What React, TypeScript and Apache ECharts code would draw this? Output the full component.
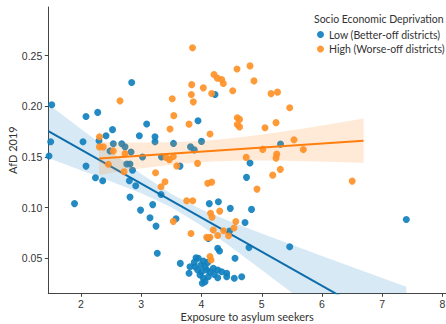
import React, { useEffect, useRef } from "react";
import * as echarts from "echarts";

// Low deprivation (better-off districts): [exposure, AfD 2019]
const lowPoints: number[][] = [
  [1.469, 0.151], [1.514, 0.2015], [1.497, 0.165], [1.892, 0.104], [2.033, 0.165],
  [2.083, 0.19], [2.277, 0.194], [2.083, 0.141], [2.24, 0.1295], [2.36, 0.1265],
  [2.299, 0.166], [2.415, 0.171], [2.523, 0.177], [2.481, 0.156], [2.536, 0.163],
  [2.676, 0.163], [2.73, 0.16], [2.83, 0.155], [2.841, 0.2235], [2.968, 0.171],
  [3.09, 0.1825], [3.021, 0.15], [3.228, 0.17], [3.228, 0.165], [3.336, 0.15],
  [3.535, 0.1634], [3.817, 0.16], [3.88, 0.157], [3.942, 0.1857], [4.0, 0.1654],
  [4.224, 0.2117], [2.759, 0.143], [2.813, 0.143], [2.855, 0.137], [2.802, 0.1265],
  [2.908, 0.1216], [2.813, 0.1104], [2.988, 0.0976], [3.19, 0.103], [3.145, 0.09],
  [3.245, 0.0818], [3.328, 0.113], [3.266, 0.055], [3.643, 0.141], [3.577, 0.089],
  [3.648, 0.045], [4.129, 0.104], [4.28, 0.1058], [4.478, 0.0993], [4.83, 0.0983],
  [4.722, 0.0853], [4.465, 0.0769], [4.113, 0.0697], [4.269, 0.0599], [4.299, 0.0572],
  [4.556, 0.05], [4.788, 0.0606], [5.464, 0.0614], [4.747, 0.1299], [4.805, 0.144],
  [5.311, 0.1627], [7.399, 0.0883], [3.909, 0.0506], [3.947, 0.05], [4.03, 0.0473],
  [4.103, 0.046], [3.88, 0.046], [3.809, 0.0417], [3.892, 0.0417], [3.992, 0.0434],
  [4.058, 0.0417], [3.793, 0.0352], [3.937, 0.0385], [4.003, 0.0368], [4.086, 0.0385],
  [4.141, 0.0368], [4.196, 0.0401], [4.269, 0.0385], [4.335, 0.0368], [4.418, 0.0352],
  [3.975, 0.0335], [4.03, 0.0303], [4.113, 0.0319], [4.212, 0.0342], [4.269, 0.0309],
  [4.013, 0.0254], [4.058, 0.027], [4.418, 0.0319], [4.544, 0.0303], [4.667, 0.0319],
];

// High deprivation (worse-off districts)
const highPoints: number[][] = [
  [3.851, 0.2577], [4.207, 0.2314], [4.262, 0.2278], [4.335, 0.2265], [4.362, 0.2225],
  [3.837, 0.2214], [4.03, 0.2182], [3.831, 0.2117], [3.864, 0.2044], [4.169, 0.2127],
  [2.647, 0.2054], [3.514, 0.2074], [3.54, 0.1908], [3.477, 0.1777], [3.793, 0.1824],
  [4.141, 0.1726], [2.307, 0.17], [2.304, 0.16], [2.37, 0.16], [2.536, 0.156],
  [2.73, 0.1533], [2.453, 0.1428], [2.714, 0.1354], [3.411, 0.1496], [3.466, 0.1474],
  [3.532, 0.1504], [3.589, 0.1412], [3.934, 0.1437], [3.237, 0.1344], [3.394, 0.1255],
  [3.328, 0.1206], [4.103, 0.124], [4.169, 0.1252], [3.754, 0.1068], [3.854, 0.1068],
  [4.15, 0.0944], [4.175, 0.0905], [4.302, 0.0966], [3.532, 0.0865], [3.826, 0.0745],
  [4.195, 0.0779], [4.141, 0.0707], [4.085, 0.0707], [4.269, 0.0725], [4.368, 0.0772],
  [4.448, 0.0722], [4.539, 0.0799], [4.569, 0.0863], [4.141, 0.0518], [4.158, 0.0483],
  [4.742, 0.1496], [5.016, 0.1575], [5.248, 0.1528], [5.237, 0.1489], [5.308, 0.1378],
  [5.182, 0.1321], [4.921, 0.1183], [5.535, 0.167], [5.69, 0.1573], [6.501, 0.1262],
  [5.464, 0.1985], [4.805, 0.2399], [4.589, 0.2369], [4.871, 0.2251], [4.518, 0.2153],
  [5.154, 0.2125], [5.261, 0.214], [4.594, 0.1888], [4.631, 0.1871], [4.594, 0.1821],
  [4.631, 0.1797], [5.054, 0.1788], [5.237, 0.1839],
];

// Regression lines (endpoints)
const lowFit: number[][] = [[1.457, 0.1755], [7.4, -0.0241]];
const highFit: number[][] = [[2.3, 0.1486], [6.69, 0.166]];

// Confidence bands
const lowBandX = [1.457, 2.0, 2.5, 3.0, 3.5, 4.0, 4.5, 5.0, 5.5, 6.0, 6.5, 7.0, 7.4];
const lowBandLo = [0.149, 0.137, 0.1258, 0.1141, 0.1004, 0.0821, 0.0607, 0.0385, 0.016, -0.0066, -0.0293, -0.052, -0.07];
const lowBandHi = [0.202, 0.1775, 0.1552, 0.1333, 0.1134, 0.0981, 0.0859, 0.0745, 0.0634, 0.0524, 0.0415, 0.0306, 0.0219];

const highBandX = [2.3, 2.75, 3.25, 3.75, 4.25, 4.75, 5.25, 5.75, 6.25, 6.69];
const highBandLo = [0.1325, 0.1366, 0.1406, 0.1438, 0.1458, 0.1466, 0.1465, 0.1459, 0.145, 0.144];
const highBandHi = [0.1647, 0.1642, 0.1642, 0.165, 0.167, 0.1702, 0.1741, 0.1787, 0.1836, 0.188];

const xTicks = [2, 3, 4, 5, 6, 7, 8];
const yTicks = [0.05, 0.1, 0.15, 0.2, 0.25];

const LOW_NAME = "Low (Better-off districts)";
const HIGH_NAME = "High (Worse-off districts)";

const X_MIN = 1.457;
const X_MAX = 8.058;
const Y_MIN = 0.0155;
const Y_MAX = 0.298;

function bandSeries(xs: number[], lo: number[], hi: number[], color: string, z: number) {
  return {
    type: "custom",
    coordinateSystem: "cartesian2d",
    silent: true,
    clip: true,
    z,
    data: [[xs[0], hi[0]]],
    renderItem: (_params: any, api: any) => {
      const pts: number[][] = [];
      for (let i = 0; i < xs.length; i++) pts.push(api.coord([xs[i], Math.max(hi[i], Y_MIN)]));
      for (let i = xs.length - 1; i >= 0; i--) pts.push(api.coord([xs[i], lo[i]]));
      return {
        type: "polygon",
        shape: { points: pts },
        style: { fill: color, opacity: 0.18, stroke: "none" },
      };
    },
  };
}

export default function App() {
  const ref = useRef<HTMLDivElement>(null);
  useEffect(() => {
    if (!ref.current) return;
    const chart = echarts.init(ref.current, undefined, { renderer: "svg" });
    const tickFont = "Liberation Sans";
    const labelFont = "Lato";
    chart.setOption({
      animation: false,
      backgroundColor: "#ffffff",
      title: {
        text: "Socio Economic Deprivation",
        left: 314,
        top: 13,
        padding: 0,
        textStyle: { fontSize: 10.5, fontWeight: "normal", color: "#333", fontFamily: labelFont },
      },
      legend: {
        left: 317,
        top: 29,
        orient: "vertical",
        itemWidth: 7,
        itemHeight: 7,
        itemGap: 3.5,
        padding: 0,
        icon: "circle",
        data: [LOW_NAME, HIGH_NAME],
        textStyle: { fontSize: 10.5, color: "#333", fontFamily: labelFont },
      },
      grid: {
        left: 48.3,
        top: 7,
        right: 0,
        bottom: 30.7,
        containLabel: false,
        outerBoundsMode: "none",
      },
      xAxis: {
        type: "value",
        min: X_MIN,
        max: X_MAX,
        name: "Exposure to asylum seekers",
        nameLocation: "middle",
        nameGap: 18,
        nameMoveOverlap: false,
        nameTextStyle: { fontSize: 11, color: "#333", fontFamily: labelFont },
        axisLine: { show: true, onZero: false, lineStyle: { color: "#444", width: 1 } },
        axisTick: { show: true, length: 3.5, customValues: xTicks, lineStyle: { color: "#444" } },
        axisLabel: {
          customValues: xTicks,
          fontSize: 10.5,
          color: "#333",
          fontFamily: tickFont,
          margin: 5,
        },
        splitLine: { show: false },
      },
      yAxis: {
        type: "value",
        min: Y_MIN,
        max: Y_MAX,
        name: "AfD 2019",
        nameLocation: "middle",
        nameGap: 30,
        nameMoveOverlap: false,
        nameRotate: 90,
        nameTextStyle: { fontSize: 11, color: "#333", fontFamily: labelFont },
        axisLine: { show: true, onZero: false, lineStyle: { color: "#444", width: 1 } },
        axisTick: { show: true, length: 3.5, customValues: yTicks, lineStyle: { color: "#444" } },
        axisLabel: {
          customValues: yTicks,
          fontSize: 10.5,
          color: "#333",
          fontFamily: tickFont,
          margin: 6,
          formatter: (v: number) => v.toFixed(2),
        },
        splitLine: { show: false },
      },
      series: [
        {
          name: LOW_NAME,
          type: "scatter",
          data: lowPoints,
          symbolSize: 7,
          z: 2,
          itemStyle: { color: "#1080be", opacity: 0.92 },
        },
        bandSeries(lowBandX, lowBandLo, lowBandHi, "#1f85c4", 3),
        {
          type: "line",
          data: lowFit,
          showSymbol: false,
          z: 4,
          clip: true,
          lineStyle: { color: "#0d6dab", width: 2 },
        },
        {
          name: HIGH_NAME,
          type: "scatter",
          data: highPoints,
          symbolSize: 7,
          z: 5,
          itemStyle: { color: "#ff9128", opacity: 0.92 },
        },
        bandSeries(highBandX, highBandLo, highBandHi, "#ff8a1f", 6),
        {
          type: "line",
          data: highFit,
          showSymbol: false,
          z: 7,
          clip: true,
          lineStyle: { color: "#ff7f0e", width: 2 },
        },
      ],
    });
    return () => chart.dispose();
  }, []);
  return (
    <div
      ref={ref}
      style={{ position: "absolute", left: 0, top: 0, width: 446, height: 324 }}
    />
  );
}
